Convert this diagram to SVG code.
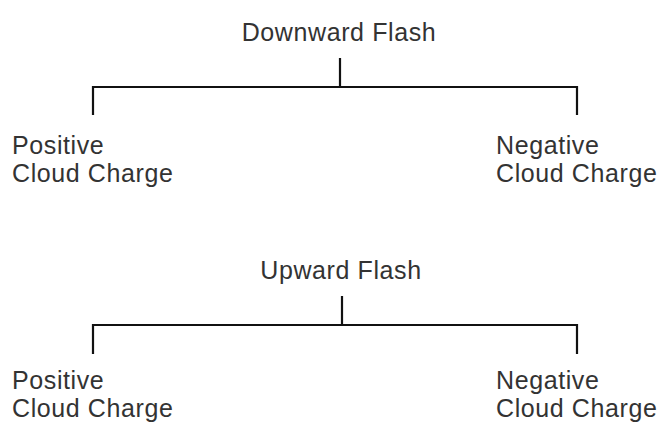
<svg xmlns="http://www.w3.org/2000/svg" width="659" height="423" viewBox="0 0 659 423">
  <style>
    .label { font-family: "Liberation Sans", Arial, sans-serif; font-size: 25px; letter-spacing: 0.6px; fill: #333; }
    .mid { text-anchor: middle; }
    .link { fill: none; stroke: #111; stroke-width: 2.2; }
  </style>
  <rect width="659" height="423" fill="#fff"/>

  <g id="connectors">
    <!-- downward flash tree -->
    <path class="link" d="M340 58 V87 M93 115 V87 H577 V115"/>
    <!-- upward flash tree -->
    <path class="link" d="M342 296 V325 M93 354 V325 H577 V354"/>
  </g>

  <g id="downward-flash">
    <text class="label mid" x="339" y="41">Downward Flash</text>
  </g>
  <g id="downward-positive">
    <text class="label" x="12" y="154">Positive</text>
    <text class="label" x="12" y="182">Cloud Charge</text>
  </g>
  <g id="downward-negative">
    <text class="label" x="496" y="154">Negative</text>
    <text class="label" x="496" y="182">Cloud Charge</text>
  </g>

  <g id="upward-flash">
    <text class="label mid" x="341" y="279">Upward Flash</text>
  </g>
  <g id="upward-positive">
    <text class="label" x="12" y="389">Positive</text>
    <text class="label" x="12" y="417">Cloud Charge</text>
  </g>
  <g id="upward-negative">
    <text class="label" x="496" y="389">Negative</text>
    <text class="label" x="496" y="417">Cloud Charge</text>
  </g>
</svg>
